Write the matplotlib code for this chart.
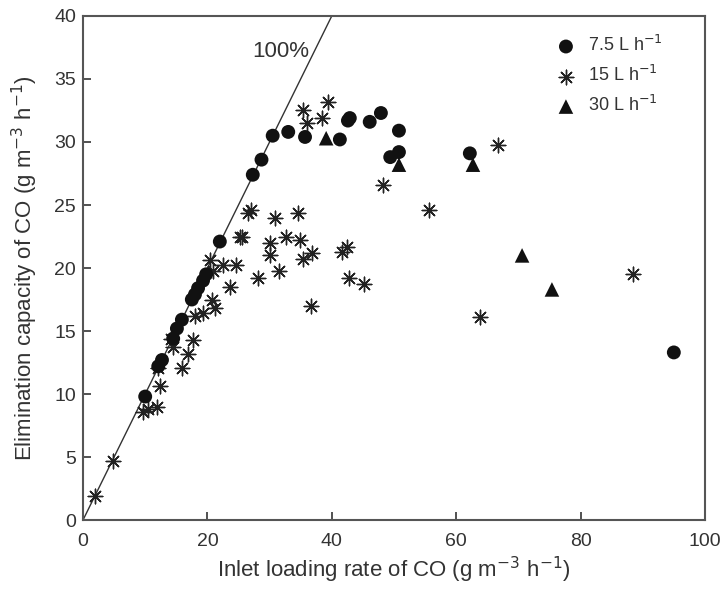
import matplotlib
matplotlib.use("Agg")
import matplotlib.pyplot as plt

plt.rcParams['font.family'] = ['Liberation Sans', 'DejaVu Sans']

# 7.5 L/h
c_x = [10.0, 12.1, 12.7, 14.5, 15.1, 15.9, 17.5, 18.0, 18.5, 19.3, 19.8, 22.0,
       27.3, 28.7, 30.5, 33.0, 35.7, 41.3, 42.9, 42.6, 46.1, 47.9, 49.4, 50.8,
       50.8, 62.2, 95.0]
c_y = [9.8, 12.2, 12.7, 14.4, 15.2, 15.9, 17.5, 17.9, 18.4, 19.0, 19.5, 22.1,
       27.4, 28.6, 30.5, 30.8, 30.4, 30.2, 31.9, 31.7, 31.6, 32.3, 28.8, 30.9,
       29.2, 29.1, 13.3]
# 15 L/h
s_x = [1.9, 4.8, 9.6, 10.5, 11.9, 12.4, 12.0, 14.5, 14.2, 15.9, 16.9, 17.7,
       18.0, 19.3, 20.7, 21.2, 20.4, 20.9, 22.5, 23.6, 24.6, 25.2, 25.6, 26.5,
       27.0, 28.1, 30.1, 30.1, 30.9, 31.5, 32.6, 34.6, 34.9, 35.4, 36.8, 36.7,
       35.4, 36.0, 38.4, 39.4, 41.6, 42.4, 42.8, 45.2, 48.2, 55.6, 63.8, 66.7,
       88.4]
s_y = [1.9, 4.7, 8.6, 8.8, 9.0, 10.6, 12.1, 13.7, 14.4, 12.1, 13.2, 14.3,
       16.2, 16.4, 17.5, 16.8, 20.6, 19.8, 20.2, 18.5, 20.2, 22.5, 22.5, 24.4,
       24.6, 19.2, 22.0, 21.0, 24.0, 19.8, 22.5, 24.4, 22.2, 20.7, 21.2, 17.0,
       32.5, 31.5, 31.9, 33.2, 21.3, 21.7, 19.2, 18.7, 26.6, 24.6, 16.1, 29.8,
       19.5]
# 30 L/h
t_x = [39.1, 50.8, 62.7, 70.6, 75.4]
t_y = [30.3, 28.2, 28.2, 21.0, 18.3]

line_x = [0, 40]
line_y = [0, 40]

fig = plt.figure(figsize=(7.23, 5.90), dpi=100)
ax = fig.add_axes([0.1148, 0.1186, 0.8602, 0.8543])

ax.plot(line_x, line_y, color='#333333', lw=1.0, zorder=1)
ax.scatter(s_x, s_y, marker=(8, 2, 0), s=110, color='#222222', linewidths=1.0,
           label='15 L h$^{-1}$', zorder=2)
ax.scatter(c_x, c_y, marker='o', s=100, color='#111111', edgecolors='none',
           label='7.5 L h$^{-1}$', zorder=3)
ax.scatter(t_x, t_y, marker='^', s=110, color='#111111', edgecolors='none',
           label='30 L h$^{-1}$', zorder=3)

ax.text(31.8, 37.2, '100%', ha='center', va='center', fontsize=16, color='#333333')

ax.set_xlim(0, 100)
ax.set_ylim(0, 40)
ax.set_xticks([0, 20, 40, 60, 80, 100])
ax.set_yticks(range(0, 41, 5))
ax.tick_params(direction='in', length=6, width=1.2, labelsize=14,
               colors='#333333', top=False, right=False)
ax.tick_params(axis='x', pad=9)
ax.tick_params(axis='y', pad=5)
for sp in ax.spines.values():
    sp.set_color('#555555')
    sp.set_linewidth(1.5)

ax.set_xlabel('Inlet loading rate of CO (g m$^{-3}$ h$^{-1}$)', fontsize=16,
              color='#333333', labelpad=4)
ax.set_ylabel('Elimination capacity of CO (g m$^{-3}$ h$^{-1}$)', fontsize=16,
              color='#333333', labelpad=10)

h, l = ax.get_legend_handles_labels()
order = [1, 0, 2]
leg = ax.legend([h[i] for i in order], [l[i] for i in order], loc='upper left',
                bbox_to_anchor=(0.762, 0.962), frameon=False, fontsize=13,
                handlelength=1.0, handletextpad=0.7, labelspacing=0.55,
                borderaxespad=0.0, borderpad=0.0, scatterpoints=1)
for t in leg.get_texts():
    t.set_color('#333333')

fig.savefig('out.png', dpi=100)
